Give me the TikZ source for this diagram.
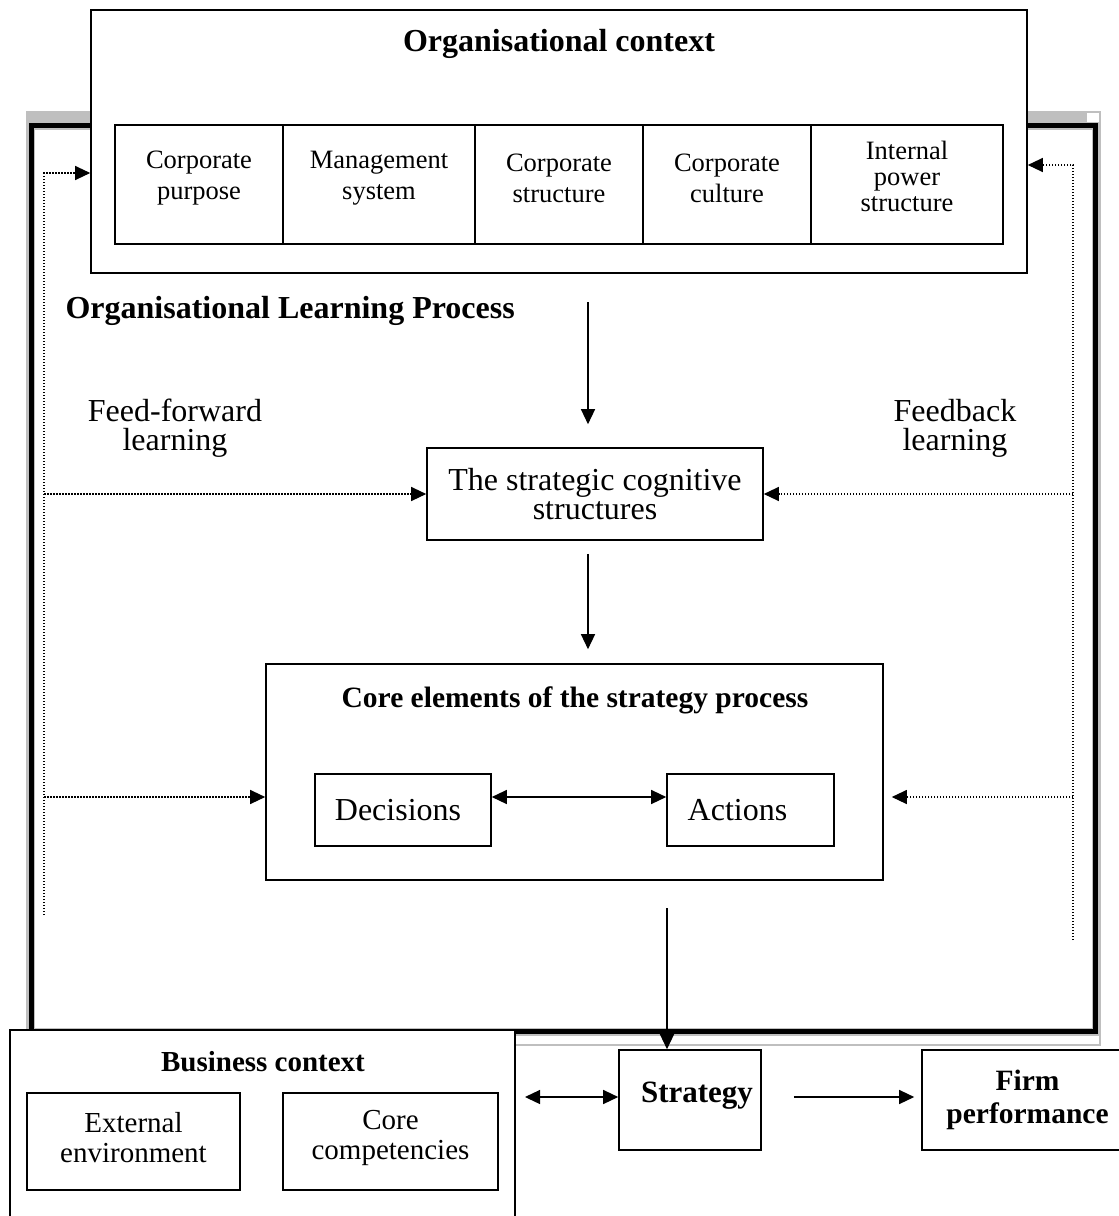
\documentclass[tikz,border=0pt]{standalone}
\usepackage{fontspec}
\setmainfont{Liberation Serif}
\usetikzlibrary{arrows.meta}

\begin{document}
\begin{tikzpicture}[x=1pt,y=-1pt,
  box/.style={draw, line width=1.6pt, fill=white, inner sep=0pt, align=center},
  arr/.style={line width=1.3pt, -{Triangle[length=15pt,width=14pt]}},
  twoarr/.style={line width=1.3pt, {Triangle[length=15pt,width=14pt]}-{Triangle[length=15pt,width=14pt]}},
  feed/.style={line width=1.2pt, dash pattern=on 1.5pt off 1.5pt, -{Triangle[length=15pt,width=14pt]}},
  big/.style={font=\fontsize{32}{29}\selectfont, align=center},
  cell/.style={font=\fontsize{26.5}{31}\selectfont, align=center},
  mid/.style={font=\fontsize{29}{30}\selectfont, align=center}]
\useasboundingbox (0,0) rectangle (1119,1216);
\clip (0,0) rectangle (1119,1216);

% shadowed frame of the learning process
\fill[gray!50] (27,112) rectangle (1087,123);
\draw[gray!50, line width=1.5pt] (27,112) rectangle (1100,1045);
\draw[gray!50, line width=8pt] (31,125.5) rectangle (1095.5,1031.5);
\draw[line width=5pt] (31,125.5) rectangle (1095.5,1031.5);

% organisational context
\node[box, minimum width=936pt, minimum height=263pt] (org) at (559,141.5) {};
\node[big, font=\fontsize{32}{29}\selectfont\bfseries] (orgt) at (559,44) {Organisational context};
\node[box, minimum width=168pt, minimum height=119pt] (c1) at (199,184.5) {};
\node[box, minimum width=192pt, minimum height=119pt] (c2) at (379,184.5) {};
\node[box, minimum width=168pt, minimum height=119pt] (c3) at (559,184.5) {};
\node[box, minimum width=168pt, minimum height=119pt] (c4) at (727,184.5) {};
\node[box, minimum width=192pt, minimum height=119pt] (c5) at (907,184.5) {};
\node[cell] at ([yshift=6pt]c1.center) {Corporate\\purpose};
\node[cell] at ([yshift=6pt]c2.center) {Management\\system};
\node[cell] at ([yshift=6pt]c3.center) {Corporate\\structure};
\node[cell] at ([yshift=6pt]c4.center) {Corporate\\culture};
\node[cell, font=\fontsize{26.5}{26}\selectfont] at ([yshift=8pt]c5.center) {Internal\\power\\structure};

\node[anchor=west, font=\fontsize{32}{30}\selectfont\bfseries] (olp) at (62,311) {Organisational Learning Process};
\node[big] (ffl) at (175,428) {Feed-forward\\learning};
\node[big] (fbl) at (955,428) {Feedback\\learning};

% strategy process
\node[box, big, minimum width=336pt, minimum height=92pt] (sc) at (595,494) {The strategic cognitive\\structures};
\node[box, minimum width=617pt, minimum height=216pt] (core) at (574.5,772) {};
\node[font=\fontsize{29.5}{30}\selectfont\bfseries] (coret) at (575,700) {Core elements of the strategy process};
\node[box, minimum width=176pt, minimum height=72pt] (dec) at (403,810) {};
\node[box, minimum width=167pt, minimum height=72pt] (act) at (750.5,810) {};
\node[big] at ([xshift=-5pt]dec.center) {Decisions};
\node[big] at ([xshift=-13pt]act.center) {Actions};

% contexts and outcome
\node[box, minimum width=505pt, minimum height=220pt] (bus) at (262.5,1140) {};
\node[font=\fontsize{29}{30}\selectfont\bfseries] (bust) at (263,1062) {Business context};
\node[box, minimum width=213pt, minimum height=97pt] (ext) at (133.5,1141.5) {};
\node[box, minimum width=215pt, minimum height=97pt] (comp) at (390.5,1141.5) {};
\node[mid] at ([yshift=4pt]ext.center) {External\\environment};
\node[mid] at ([yshift=4pt]comp.center) {Core\\competencies};
\node[box, minimum width=142pt, minimum height=100pt] (strat) at (690,1100) {};
\node[font=\fontsize{31}{30}\selectfont\bfseries] at ([xshift=7pt, yshift=4pt]strat.center) {Strategy};
\node[box, font=\fontsize{29.5}{33}\selectfont\bfseries, minimum width=211pt, minimum height=100pt] (firm) at (1027.5,1100) {Firm\\performance};

% solid arrows
\coordinate (a1) at (588,302);
\coordinate (a3) at (667,908);
\coordinate (bc) at (525,1097);
\draw[arr, shorten >=23pt] (a1) -- (a1 |- sc.north);
\draw[arr, shorten >=14pt] ([yshift=-13pt]sc.south -| a1) -- (a1 |- core.north);
\draw[twoarr] ([yshift=13pt]dec.east) -- ([yshift=13pt]act.west);
\draw[arr] (a3) -- (a3 |- strat.north);
\draw[twoarr] (bc) -- (bc -| strat.west);
\draw[arr, shorten <=32pt, shorten >=7pt] ([yshift=3pt]strat.east) -- ([yshift=3pt]strat.east -| firm.west);

% dotted feed-forward (left) and feedback (right) loops
\coordinate (ffb) at (44,915);
\coordinate (fft) at (44,173);
\coordinate (ff2) at (44,797);
\coordinate (fbb) at (1073,940);
\coordinate (fbt) at (1073,165);
\coordinate (fb2) at (1073,797);
\draw[feed] (ffb) -- (fft) -- (fft -| org.west);
\draw[feed] (sc.west -| fft) -- (sc.west);
\draw[feed] (ff2) -- (ff2 -| core.west);
\draw[feed] (fbb) -- (fbt) -- (fbt -| org.east);
\draw[feed] (sc.east -| fbt) -- (sc.east);
\draw[feed, shorten >=8pt] (fb2) -- (fb2 -| core.east);
\end{tikzpicture}
\end{document}
